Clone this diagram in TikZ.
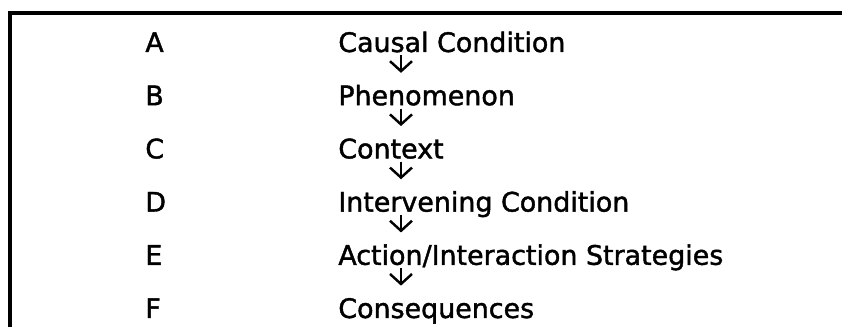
\documentclass[tikz,border=0pt]{standalone}
\usepackage{fontspec}
\setmainfont{DejaVu Sans}
\newfontfamily\stagefont{DejaVu Sans}[FakeBold=1.5]
\usepackage{tikz}
\usetikzlibrary{arrows.meta}

\begin{document}
\begin{tikzpicture}[x=0.02cm, y=-0.02cm,
    rowtext/.style={anchor=base west, inner sep=0pt, font=\stagefont\fontsize{15.3}{17}\selectfont,
                    text height=0.38cm, text depth=0.06cm},
    flow/.style={-{Straight Barb[length=0.2cm, width=0.44cm, line width=1.4pt]},
                 line width=1.4pt, shorten >=0.26cm}]
    \useasboundingbox (0,0) rectangle (842,327);
    \clip (0,0) rectangle (842,327);

    % Frame (runs off the page at right and bottom)
    \draw[line width=2.3pt] (10,345) -- (10,13) -- (860,13);

    % Letters
    \node[rowtext] (lA) at (145,52) {A};
    \node[rowtext] (lB) at (145,105.2) {B};
    \node[rowtext] (lC) at (145,158.4) {C};
    \node[rowtext] (lD) at (145,211.6) {D};
    \node[rowtext] (lE) at (145,264.8) {E};
    \node[rowtext] (lF) at (145,318) {F};

    % Stages
    \node[rowtext] (cA) at (338,52) {Causal Condition};
    \node[rowtext] (cB) at (338,105.2) {Phenomenon};
    \node[rowtext] (cC) at (338,158.4) {Context};
    \node[rowtext] (cD) at (338,211.6) {Intervening Condition};
    \node[rowtext] (cE) at (338,264.8) {Action/Interaction Strategies};
    \node[rowtext] (cF) at (338,318) {Consequences};

    % Arrows between stages
    \coordinate (ax) at (401,0);
    \draw[flow] (cA.south -| ax) -- (cB.north -| ax);
    \draw[flow] (cB.south -| ax) -- (cC.north -| ax);
    \draw[flow] (cC.south -| ax) -- (cD.north -| ax);
    \draw[flow] (cD.south -| ax) -- (cE.north -| ax);
    \draw[flow] (cE.south -| ax) -- (cF.north -| ax);
\end{tikzpicture}
\end{document}
